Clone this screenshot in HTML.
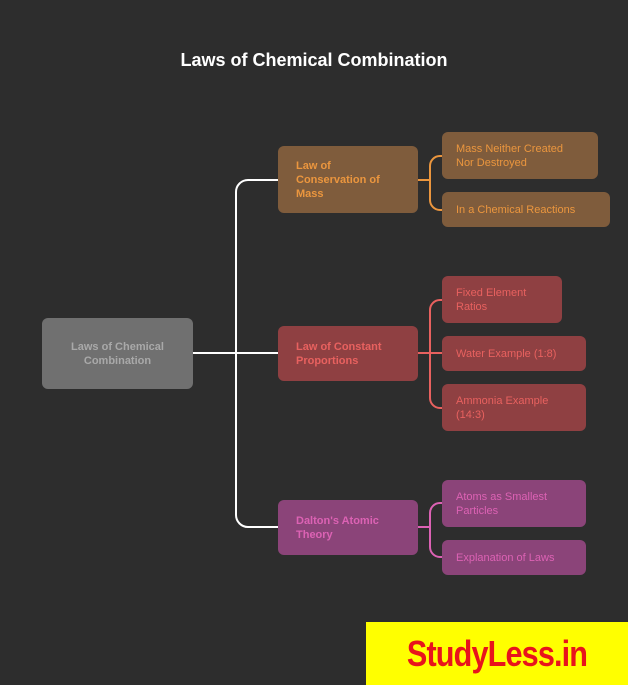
<!DOCTYPE html>
<html><head><style>
body{margin:0;width:628px;height:685px;background:#2d2d2d;position:relative;overflow:hidden;font-family:"Liberation Sans",sans-serif}
.n{position:absolute;border-radius:6px;box-sizing:border-box;font-size:11px;line-height:14px;display:flex;align-items:center;padding-left:14px}
.b{font-weight:bold;padding-left:18px}
.o{background:#7f5c3c;color:#eb963e}
.r{background:#8f4042;color:#e8615f}
.p{background:#8b4479;color:#dc62b4}
</style></head><body>
<div style="position:absolute;top:50px;left:0;width:628px;text-align:center;color:#fff;font-weight:bold;font-size:18px">Laws of Chemical Combination</div>
<svg width="628" height="685" style="position:absolute;left:0;top:0">
<g fill="none" stroke-width="2">
<path d="M187 353H418M280 180H248a12 12 0 0 0 -12 12V515a12 12 0 0 0 12 12H280" stroke="#fff"/>
<path d="M418 180H430M442 156h-2a10 10 0 0 0 -10 10V200a10 10 0 0 0 10 10h2" stroke="#eb963e"/>
<path d="M418 353H442M442 300h-2a10 10 0 0 0 -10 10V398a10 10 0 0 0 10 10h2" stroke="#e8615f"/>
<path d="M418 527H430M442 503h-2a10 10 0 0 0 -10 10V547a10 10 0 0 0 10 10h2" stroke="#dc62b4"/>
</g></svg>
<div class="n b" style="left:42px;top:318px;width:151px;height:71px;background:#707070;color:#a9a9a9;justify-content:center;text-align:center;padding:0">Laws of Chemical<br>Combination</div>
<div class="n b o" style="left:278px;top:146px;width:140px;height:67px">Law of<br>Conservation of<br>Mass</div>
<div class="n b r" style="left:278px;top:326px;width:140px;height:55px">Law of Constant<br>Proportions</div>
<div class="n b p" style="left:278px;top:500px;width:140px;height:55px">Dalton's Atomic<br>Theory</div>
<div class="n o" style="left:442px;top:132px;width:156px;height:47px">Mass Neither Created<br>Nor Destroyed</div>
<div class="n o" style="left:442px;top:192px;width:168px;height:35px">In a Chemical Reactions</div>
<div class="n r" style="left:442px;top:276px;width:120px;height:47px">Fixed Element<br>Ratios</div>
<div class="n r" style="left:442px;top:336px;width:144px;height:35px">Water Example (1:8)</div>
<div class="n r" style="left:442px;top:384px;width:144px;height:47px">Ammonia Example<br>(14:3)</div>
<div class="n p" style="left:442px;top:480px;width:144px;height:47px">Atoms as Smallest<br>Particles</div>
<div class="n p" style="left:442px;top:540px;width:144px;height:35px">Explanation of Laws</div>
<div style="position:absolute;left:366px;top:622px;width:262px;height:63px;background:#ffff00;color:#e8141c;font-weight:bold;font-size:36px;display:flex;align-items:center;justify-content:center;letter-spacing:-1px"><span style="display:inline-block;transform:scaleX(0.85)">StudyLess.in</span></div>
</body></html>
